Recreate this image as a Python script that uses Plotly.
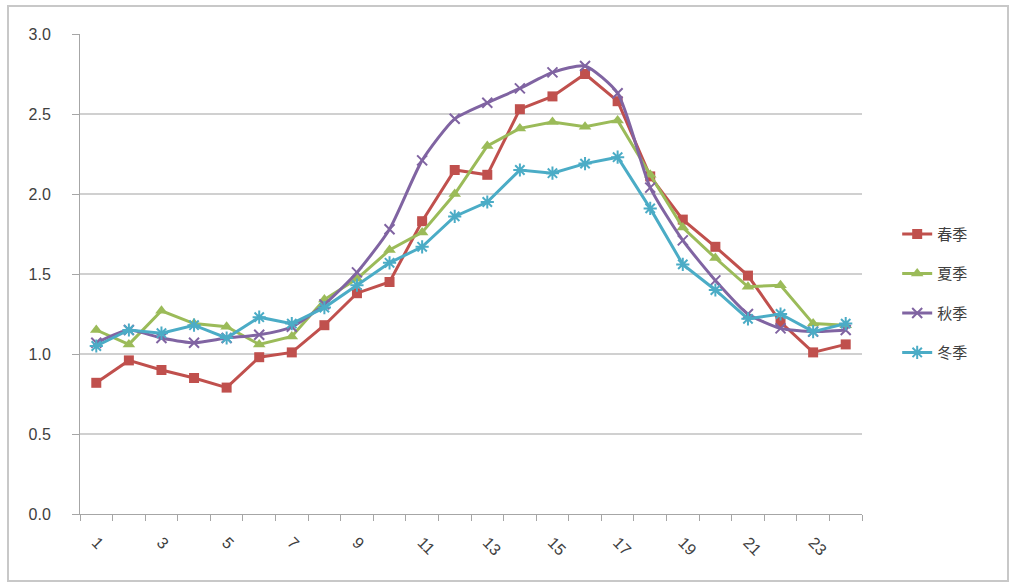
import plotly.graph_objects as go

# Hour of day (1..24) and seasonal load ratio values
hours = list(range(1, 25))

spring = [0.82, 0.96, 0.90, 0.85, 0.79, 0.98, 1.01, 1.18, 1.38, 1.45, 1.83, 2.15,
          2.12, 2.53, 2.61, 2.75, 2.58, 2.11, 1.84, 1.67, 1.49, 1.20, 1.01, 1.06]
summer = [1.15, 1.06, 1.27, 1.19, 1.17, 1.06, 1.11, 1.34, 1.47, 1.65, 1.76, 2.00,
          2.30, 2.41, 2.45, 2.42, 2.46, 2.12, 1.79, 1.60, 1.42, 1.43, 1.19, 1.18]
autumn = [1.07, 1.15, 1.10, 1.07, 1.10, 1.12, 1.17, 1.31, 1.51, 1.78, 2.21, 2.47,
          2.57, 2.66, 2.76, 2.80, 2.63, 2.04, 1.71, 1.46, 1.25, 1.16, 1.14, 1.15]
winter = [1.05, 1.15, 1.13, 1.18, 1.10, 1.23, 1.19, 1.29, 1.43, 1.57, 1.67, 1.86,
          1.95, 2.15, 2.13, 2.19, 2.23, 1.91, 1.56, 1.40, 1.22, 1.25, 1.14, 1.19]

series_names = ["春季", "夏季", "秋季", "冬季"]
tick_hours = list(range(1, 24, 2))
tick_labels = [str(h) for h in tick_hours]
y_ticks = [0, 0.5, 1.0, 1.5, 2.0, 2.5, 3.0]
y_labels = ["0.0", "0.5", "1.0", "1.5", "2.0", "2.5", "3.0"]

styles = [
    dict(color="#C0504D", symbol="square", size=10, shape="linear", mline=0),
    dict(color="#9BBB59", symbol="triangle-up", size=11, shape="linear", mline=0),
    dict(color="#8064A2", symbol="x-thin-open", size=10, shape="spline", mline=2),
    dict(color="#4BACC6", symbol="asterisk-open", size=11, shape="linear", mline=2),
]

fig = go.Figure()
for name, vals, st in zip(series_names, [spring, summer, autumn, winter], styles):
    fig.add_trace(go.Scatter(
        x=hours, y=vals, name=name, mode="lines+markers",
        legendgroup=name,
        line=dict(color=st["color"], width=3, shape=st["shape"], smoothing=0.6),
        marker=dict(symbol=st["symbol"], size=st["size"], color=st["color"],
                    line=dict(color=st["color"], width=st["mline"])),
    ))

fig.update_layout(
    width=1009, height=583,
    margin=dict(l=80, r=147, t=34, b=69),
    paper_bgcolor="white", plot_bgcolor="white",
    font=dict(family="Liberation Sans, Arial, sans-serif", size=15, color="#404040"),
    showlegend=True,
    legend=dict(x=1.045, y=0.46, xanchor="left", yanchor="middle",
                traceorder="grouped", tracegroupgap=17,
                font=dict(family="Noto Sans CJK SC", size=15, color="#404040"),
                bgcolor="rgba(0,0,0,0)"),
    xaxis=dict(
        range=[0.5, 24.5], tickmode="array", tickvals=tick_hours, ticktext=tick_labels,
        tickangle=45, ticks="", showgrid=False, zeroline=False,
        showline=True, linecolor="#A6A6A6", linewidth=1,
        ticklabelstandoff=12,
        tickfont=dict(size=16, color="#404040"),
        minor=dict(tickmode="array", tickvals=[h - 0.5 for h in hours] + [24.5],
                   ticks="outside", ticklen=6, tickcolor="#A6A6A6", showgrid=False),
    ),
    yaxis=dict(
        range=[0, 3.0], tickmode="array", tickvals=y_ticks, ticktext=y_labels,
        showgrid=True, gridcolor="#D0D0D0", gridwidth=1.5, zeroline=False,
        showline=True, linecolor="#A6A6A6", linewidth=1,
        ticks="outside", ticklen=7, tickcolor="#A6A6A6",
        ticklabelstandoff=18, tickfont=dict(size=16, color="#404040"),
    ),
    shapes=[dict(type="rect", xref="paper", yref="paper",
                 x0=-72 / 782, x1=928 / 782, y0=-67 / 480, y1=508 / 480,
                 line=dict(color="#C8C8C8", width=2), layer="below")],
)

fig.write_html("out.html")
